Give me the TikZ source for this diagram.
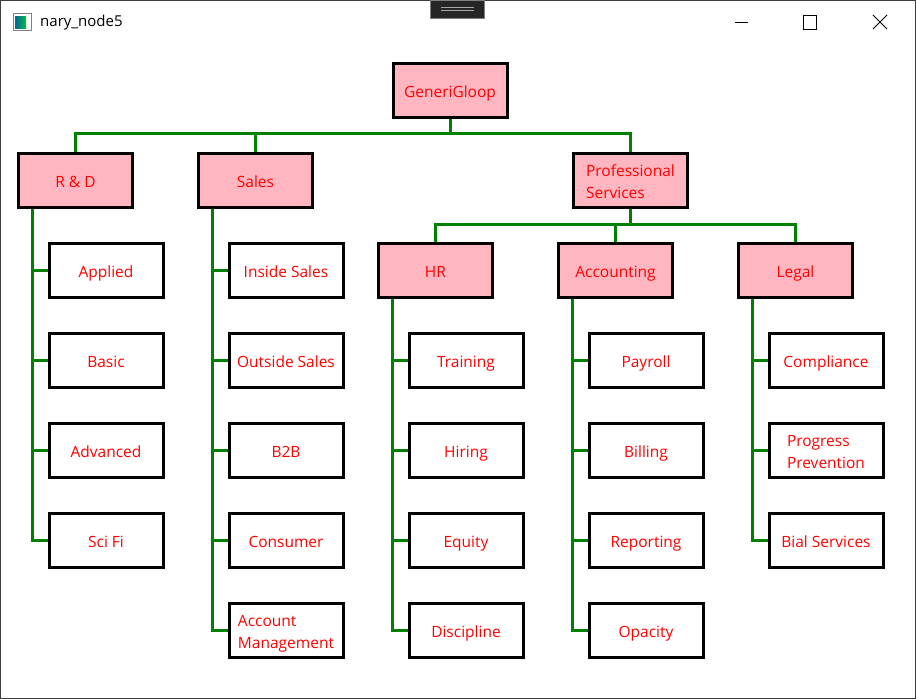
\documentclass[tikz,border=0pt]{standalone}
\usepackage{fontspec}
\setmainfont{Open Sans}
\usepackage{tikz}
\usetikzlibrary{positioning}
\usepackage{xcolor}
\definecolor{boxpink}{RGB}{255,182,193}
\definecolor{wiregreen}{RGB}{0,128,0}
\definecolor{framegray}{RGB}{60,60,60}

\begin{document}
\begin{tikzpicture}[x=1pt, y=1pt, node distance=33pt,
    box/.style={draw, line width=3pt, text=red, align=left,
        minimum width=114pt, minimum height=54pt, inner sep=2pt,
        font=\fontsize{15.5}{22}\selectfont, text height=15pt, text depth=1pt},
    twolines/.style={text height=37pt, text depth=1pt},
    unit/.style={box, fill=boxpink},
    leaf/.style={box, fill=white},
    wire/.style={draw=wiregreen, line width=3pt}]
    \useasboundingbox (0,0) rectangle (916,-699);

    % window
    \draw[framegray, line width=1pt] (0.5,-0.5) rectangle (915.5,-698.5);
    \draw[gray, fill=white] (13,-13) rectangle (31,-30);
    \shade[left color=teal!80!blue, right color=green!50!teal] (15,-16) rectangle (26,-28);
    \node[anchor=west, inner sep=0pt, font=\fontsize{15}{18}\selectfont] (title) at (40,-23) {nary\_node5};
    \draw[line width=1pt] (735,-22) -- (748,-22);
    \draw[line width=1pt] (803.5,-15.5) rectangle (816.5,-29.5);
    \draw[line width=1pt] (873,-15) -- (887,-29) (873,-29) -- (887,-15);
    \draw[gray, fill=black!85] (430.5,0) rectangle (484.5,-18.5);
    \draw[gray!70, line width=1pt] (441,-7) -- (474,-7) (441,-10) -- (474,-10);

    % tree
    \node[unit] (gg) at (450,-90) {GeneriGloop};
    \node[unit] (rd) at (75.5,-180) {R \& D};
    \node[unit] (sales) at (255.5,-180) {Sales};
    \node[unit, twolines] (ps) at (630.5,-180) {Professional\\Services};
    \node[unit] (hr) at (435.5,-270) {HR};
    \node[unit] (acc) at (615.5,-270) {Accounting};
    \node[unit] (legal) at (795.5,-270) {Legal};

    \node[leaf, below=33pt of rd, xshift=30.5pt] (rd1) {Applied};
    \node[leaf, below=of rd1] (rd2) {Basic};
    \node[leaf, below=of rd2] (rd3) {Advanced};
    \node[leaf, below=of rd3] (rd4) {Sci Fi};

    \node[leaf, below=33pt of sales, xshift=30.5pt] (sales1) {Inside Sales};
    \node[leaf, below=of sales1] (sales2) {Outside Sales};
    \node[leaf, below=of sales2] (sales3) {B2B};
    \node[leaf, below=of sales3] (sales4) {Consumer};
    \node[leaf, twolines, below=of sales4] (sales5) {Account\\Management};

    \node[leaf, below=33pt of hr, xshift=30.5pt] (hr1) {Training};
    \node[leaf, below=of hr1] (hr2) {Hiring};
    \node[leaf, below=of hr2] (hr3) {Equity};
    \node[leaf, below=of hr3] (hr4) {Discipline};

    \node[leaf, below=33pt of acc, xshift=30.5pt] (acc1) {Payroll};
    \node[leaf, below=of acc1] (acc2) {Billing};
    \node[leaf, below=of acc2] (acc3) {Reporting};
    \node[leaf, below=of acc3] (acc4) {Opacity};

    \node[leaf, below=33pt of legal, xshift=30.5pt] (legal1) {Compliance};
    \node[leaf, twolines, below=of legal1] (legal2) {Progress\\Prevention};
    \node[leaf, below=of legal2] (legal3) {Bial Services};

    % connectors
    \draw[wire] (gg.south) -- ++(0,-15) coordinate (topbus);
    \draw[wire] (rd.north) |- (topbus) -| (ps.north);
    \draw[wire] (sales.north) -- (sales.north |- topbus);
    \draw[wire] (ps.south) -- ++(0,-16) coordinate (psbus);
    \draw[wire] (hr.north) |- (psbus) -| (legal.north);
    \draw[wire] (acc.north) -- (acc.north |- psbus);

    \foreach \p/\n in {rd/4, sales/5, hr/4, acc/4, legal/3}
        \foreach \i in {1,...,\n}
            \draw[wire] ([xshift=15pt]\p.south west) |- (\p\i.west);
\end{tikzpicture}
\end{document}
